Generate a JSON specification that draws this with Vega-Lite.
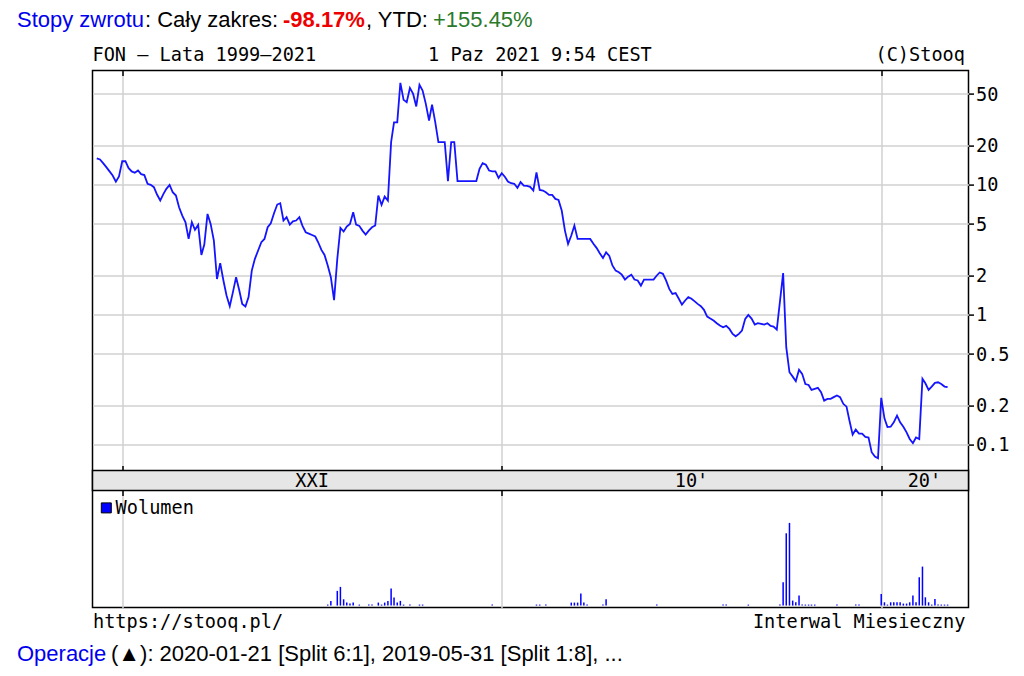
{
"$schema": "https://vega.github.io/schema/vega-lite/v6.json",
"background": "white",
"padding": {"left": 16.5, "top": 8.6, "right": 2, "bottom": 2},
"config": {"view": {"stroke": null}},
"spacing": 11,
"datasets": {
"prices": [
{"d":"1999-05-01","v":16.0},{"d":"1999-06-01","v":15.7},{"d":"1999-07-01","v":14.7},{"d":"1999-08-01","v":13.7},{"d":"1999-09-01","v":12.7},{"d":"1999-10-01","v":11.8},{"d":"1999-11-01","v":10.6},{"d":"1999-12-01","v":11.6},
{"d":"2000-01-01","v":15.2},{"d":"2000-02-01","v":15.2},{"d":"2000-03-01","v":13.5},{"d":"2000-04-01","v":12.7},{"d":"2000-05-01","v":12.4},{"d":"2000-06-01","v":12.9},{"d":"2000-07-01","v":12.1},{"d":"2000-08-01","v":11.9},{"d":"2000-09-01","v":10.2},{"d":"2000-10-01","v":10.0},{"d":"2000-11-01","v":9.6},{"d":"2000-12-01","v":8.43},
{"d":"2001-01-01","v":7.58},{"d":"2001-02-01","v":8.53},{"d":"2001-03-01","v":9.32},{"d":"2001-04-01","v":10.0},{"d":"2001-05-01","v":8.78},{"d":"2001-06-01","v":8.28},{"d":"2001-07-01","v":6.73},{"d":"2001-08-01","v":5.81},{"d":"2001-09-01","v":5.16},{"d":"2001-10-01","v":3.84},{"d":"2001-11-01","v":5.16},{"d":"2001-12-01","v":4.51},
{"d":"2002-01-01","v":4.92},{"d":"2002-02-01","v":2.89},{"d":"2002-03-01","v":3.48},{"d":"2002-04-01","v":5.98},{"d":"2002-05-01","v":5.01},{"d":"2002-06-01","v":3.73},{"d":"2002-07-01","v":1.89},{"d":"2002-08-01","v":2.5},{"d":"2002-09-01","v":1.84},{"d":"2002-10-01","v":1.41},{"d":"2002-11-01","v":1.166},{"d":"2002-12-01","v":1.49},
{"d":"2003-01-01","v":1.95},{"d":"2003-02-01","v":1.54},{"d":"2003-03-01","v":1.215},{"d":"2003-04-01","v":1.159},{"d":"2003-05-01","v":1.37},{"d":"2003-06-01","v":2.19},{"d":"2003-07-01","v":2.7},{"d":"2003-08-01","v":3.13},{"d":"2003-09-01","v":3.62},{"d":"2003-10-01","v":3.84},{"d":"2003-11-01","v":4.72},{"d":"2003-12-01","v":5.07},
{"d":"2004-01-01","v":6.05},{"d":"2004-02-01","v":7.06},{"d":"2004-03-01","v":7.23},{"d":"2004-04-01","v":5.32},{"d":"2004-05-01","v":5.64},{"d":"2004-06-01","v":4.95},{"d":"2004-07-01","v":5.25},{"d":"2004-08-01","v":5.32},{"d":"2004-09-01","v":5.64},{"d":"2004-10-01","v":4.84},{"d":"2004-11-01","v":4.32},{"d":"2004-12-01","v":4.22},
{"d":"2005-01-01","v":4.12},{"d":"2005-02-01","v":4.01},{"d":"2005-03-01","v":3.62},{"d":"2005-04-01","v":3.16},{"d":"2005-05-01","v":2.89},{"d":"2005-06-01","v":2.4},{"d":"2005-07-01","v":1.95},{"d":"2005-08-01","v":1.3},{"d":"2005-09-01","v":2.7},{"d":"2005-10-01","v":4.67},{"d":"2005-11-01","v":4.38},{"d":"2005-12-01","v":4.78},
{"d":"2006-01-01","v":5.01},{"d":"2006-02-01","v":6.16},{"d":"2006-03-01","v":4.95},{"d":"2006-04-01","v":4.84},{"d":"2006-05-01","v":4.45},{"d":"2006-06-01","v":4.15},{"d":"2006-07-01","v":4.45},{"d":"2006-08-01","v":4.72},{"d":"2006-09-01","v":4.87},{"d":"2006-10-01","v":8.28},{"d":"2006-11-01","v":7.02},{"d":"2006-12-01","v":8.13},
{"d":"2007-01-01","v":7.58},{"d":"2007-02-01","v":21.3},{"d":"2007-03-01","v":30.3},{"d":"2007-04-01","v":30.3},{"d":"2007-05-01","v":60.9},{"d":"2007-06-01","v":45.1},{"d":"2007-07-01","v":43.2},{"d":"2007-08-01","v":55.7},{"d":"2007-09-01","v":50.1},{"d":"2007-10-01","v":40.1},{"d":"2007-11-01","v":58.8},{"d":"2007-12-01","v":53.2},
{"d":"2008-01-01","v":42.0},{"d":"2008-02-01","v":31.3},{"d":"2008-03-01","v":41.5},{"d":"2008-04-01","v":30.3},{"d":"2008-05-01","v":21.3},{"d":"2008-06-01","v":21.3},{"d":"2008-07-01","v":21.3},{"d":"2008-08-01","v":10.7},{"d":"2008-09-01","v":21.3},{"d":"2008-10-01","v":21.3},{"d":"2008-11-01","v":10.7},{"d":"2008-12-01","v":10.7},
{"d":"2009-01-01","v":10.7},{"d":"2009-02-01","v":10.7},{"d":"2009-03-01","v":10.7},{"d":"2009-04-01","v":10.7},{"d":"2009-05-01","v":10.7},{"d":"2009-06-01","v":13.3},{"d":"2009-07-01","v":14.7},{"d":"2009-08-01","v":14.3},{"d":"2009-09-01","v":12.9},{"d":"2009-10-01","v":12.7},{"d":"2009-11-01","v":12.7},{"d":"2009-12-01","v":11.3},
{"d":"2010-01-01","v":12.3},{"d":"2010-02-01","v":11.5},{"d":"2010-03-01","v":10.6},{"d":"2010-04-01","v":10.3},{"d":"2010-05-01","v":10.2},{"d":"2010-06-01","v":9.48},{"d":"2010-07-01","v":10.5},{"d":"2010-08-01","v":9.88},{"d":"2010-09-01","v":9.83},{"d":"2010-10-01","v":9.65},{"d":"2010-11-01","v":9.04},{"d":"2010-12-01","v":12.5},
{"d":"2011-01-01","v":9.15},{"d":"2011-02-01","v":9.04},{"d":"2011-03-01","v":8.78},{"d":"2011-04-01","v":8.38},{"d":"2011-05-01","v":8.38},{"d":"2011-06-01","v":7.8},{"d":"2011-07-01","v":7.67},{"d":"2011-08-01","v":6.35},{"d":"2011-09-01","v":4.45},{"d":"2011-10-01","v":3.52},{"d":"2011-11-01","v":4.08},{"d":"2011-12-01","v":4.87},
{"d":"2012-01-01","v":3.84},{"d":"2012-02-01","v":3.84},{"d":"2012-03-01","v":3.84},{"d":"2012-04-01","v":3.84},{"d":"2012-05-01","v":3.84},{"d":"2012-06-01","v":3.52},{"d":"2012-07-01","v":3.28},{"d":"2012-08-01","v":2.98},{"d":"2012-09-01","v":2.74},{"d":"2012-10-01","v":3.03},{"d":"2012-11-01","v":2.84},{"d":"2012-12-01","v":2.4},
{"d":"2013-01-01","v":2.19},{"d":"2013-02-01","v":2.13},{"d":"2013-03-01","v":2.04},{"d":"2013-04-01","v":1.87},{"d":"2013-05-01","v":1.97},{"d":"2013-06-01","v":2.04},{"d":"2013-07-01","v":1.87},{"d":"2013-08-01","v":1.84},{"d":"2013-09-01","v":1.68},{"d":"2013-10-01","v":1.87},{"d":"2013-11-01","v":1.87},{"d":"2013-12-01","v":1.87},
{"d":"2014-01-01","v":1.87},{"d":"2014-02-01","v":2.01},{"d":"2014-03-01","v":2.12},{"d":"2014-04-01","v":2.07},{"d":"2014-05-01","v":1.84},{"d":"2014-06-01","v":1.585},{"d":"2014-07-01","v":1.45},{"d":"2014-08-01","v":1.47},{"d":"2014-09-01","v":1.33},{"d":"2014-10-01","v":1.2},{"d":"2014-11-01","v":1.29},{"d":"2014-12-01","v":1.37},
{"d":"2015-01-01","v":1.33},{"d":"2015-02-01","v":1.27},{"d":"2015-03-01","v":1.215},{"d":"2015-04-01","v":1.166},{"d":"2015-05-01","v":1.093},{"d":"2015-06-01","v":0.971},{"d":"2015-07-01","v":0.937},{"d":"2015-08-01","v":0.905},{"d":"2015-09-01","v":0.863},{"d":"2015-10-01","v":0.828},{"d":"2015-11-01","v":0.804},{"d":"2015-12-01","v":0.823},
{"d":"2016-01-01","v":0.78},{"d":"2016-02-01","v":0.714},{"d":"2016-03-01","v":0.685},{"d":"2016-04-01","v":0.714},{"d":"2016-05-01","v":0.758},{"d":"2016-06-01","v":0.932},{"d":"2016-07-01","v":1.0},{"d":"2016-08-01","v":0.937},{"d":"2016-09-01","v":0.843},{"d":"2016-10-01","v":0.863},{"d":"2016-11-01","v":0.853},{"d":"2016-12-01","v":0.843},
{"d":"2017-01-01","v":0.863},{"d":"2017-02-01","v":0.823},{"d":"2017-03-01","v":0.813},{"d":"2017-04-01","v":0.771},{"d":"2017-06-01","v":2.1},{"d":"2017-07-01","v":0.564},{"d":"2017-08-01","v":0.362},{"d":"2017-09-01","v":0.335},{"d":"2017-10-01","v":0.309},{"d":"2017-11-01","v":0.378},{"d":"2017-12-01","v":0.352},
{"d":"2018-01-01","v":0.294},{"d":"2018-02-01","v":0.289},{"d":"2018-03-01","v":0.265},{"d":"2018-04-01","v":0.27},{"d":"2018-05-01","v":0.275},{"d":"2018-06-01","v":0.254},{"d":"2018-07-01","v":0.219},{"d":"2018-08-01","v":0.226},{"d":"2018-09-01","v":0.226},{"d":"2018-10-01","v":0.233},{"d":"2018-11-01","v":0.24},{"d":"2018-12-01","v":0.233},
{"d":"2019-01-01","v":0.207},{"d":"2019-02-01","v":0.197},{"d":"2019-03-01","v":0.154},{"d":"2019-04-01","v":0.12},{"d":"2019-05-01","v":0.131},{"d":"2019-06-01","v":0.122},{"d":"2019-07-01","v":0.122},{"d":"2019-08-01","v":0.115},{"d":"2019-09-01","v":0.114},{"d":"2019-10-01","v":0.0878},{"d":"2019-11-01","v":0.0813},{"d":"2019-12-01","v":0.0789},
{"d":"2020-01-01","v":0.23},{"d":"2020-02-01","v":0.16},{"d":"2020-03-01","v":0.137},{"d":"2020-04-01","v":0.138},{"d":"2020-05-01","v":0.149},{"d":"2020-06-01","v":0.168},{"d":"2020-07-01","v":0.149},{"d":"2020-08-01","v":0.138},{"d":"2020-09-01","v":0.125},{"d":"2020-10-01","v":0.111},{"d":"2020-11-01","v":0.103},{"d":"2020-12-01","v":0.114},
{"d":"2021-01-01","v":0.111},{"d":"2021-02-01","v":0.322},{"d":"2021-03-01","v":0.298},{"d":"2021-04-01","v":0.265},{"d":"2021-05-01","v":0.281},{"d":"2021-06-01","v":0.3},{"d":"2021-07-01","v":0.303},{"d":"2021-08-01","v":0.294},{"d":"2021-09-01","v":0.281},{"d":"2021-10-01","v":0.278}
],
"volume": [
{"d":"2005-06-01","vol":1000},{"d":"2005-07-01","vol":4700},{"d":"2005-09-01","vol":14700},{"d":"2005-10-01","vol":18700},{"d":"2005-11-01","vol":6300},{"d":"2005-12-01","vol":3000},{"d":"2006-01-01","vol":2000},{"d":"2006-02-01","vol":3000},{"d":"2006-04-01","vol":1000},{"d":"2006-07-01","vol":1000},{"d":"2006-08-01","vol":1000},{"d":"2006-10-01","vol":3000},{"d":"2006-11-01","vol":1000},{"d":"2006-12-01","vol":3000},
{"d":"2007-01-01","vol":4700},{"d":"2007-02-01","vol":17000},{"d":"2007-03-01","vol":8000},{"d":"2007-04-01","vol":3000},{"d":"2007-05-01","vol":4700},{"d":"2007-06-01","vol":1000},{"d":"2007-08-01","vol":1000},{"d":"2007-11-01","vol":1000},{"d":"2007-12-01","vol":1000},
{"d":"2009-10-01","vol":1000},{"d":"2010-12-01","vol":1000},{"d":"2011-01-01","vol":1000},{"d":"2011-03-01","vol":1000},{"d":"2011-11-01","vol":3000},{"d":"2011-12-01","vol":3000},{"d":"2012-01-01","vol":3000},{"d":"2012-02-01","vol":12000},{"d":"2012-03-01","vol":3000},{"d":"2012-04-01","vol":1000},{"d":"2012-09-01","vol":1000},{"d":"2012-10-01","vol":6300},
{"d":"2014-02-01","vol":1000},{"d":"2015-11-01","vol":1000},{"d":"2015-12-01","vol":1000},{"d":"2016-07-01","vol":1000},{"d":"2017-05-01","vol":1000},{"d":"2017-06-01","vol":23300},{"d":"2017-07-01","vol":72300},{"d":"2017-08-01","vol":82700},{"d":"2017-09-01","vol":5000},{"d":"2017-10-01","vol":3300},{"d":"2017-11-01","vol":10000},{"d":"2017-12-01","vol":1000},
{"d":"2018-01-01","vol":1000},{"d":"2018-02-01","vol":1000},{"d":"2018-03-01","vol":1000},{"d":"2018-04-01","vol":1000},{"d":"2018-11-01","vol":1000},{"d":"2019-05-01","vol":1000},{"d":"2019-06-01","vol":1000},
{"d":"2020-01-01","vol":11700},{"d":"2020-02-01","vol":3300},{"d":"2020-03-01","vol":1000},{"d":"2020-04-01","vol":3300},{"d":"2020-05-01","vol":3300},{"d":"2020-06-01","vol":3300},{"d":"2020-07-01","vol":3300},{"d":"2020-08-01","vol":2000},{"d":"2020-09-01","vol":2000},{"d":"2020-10-01","vol":3300},{"d":"2020-11-01","vol":10000},{"d":"2020-12-01","vol":3300},
{"d":"2021-01-01","vol":28300},{"d":"2021-02-01","vol":39000},{"d":"2021-03-01","vol":8300},{"d":"2021-04-01","vol":3300},{"d":"2021-05-01","vol":1000},{"d":"2021-06-01","vol":6700},{"d":"2021-07-01","vol":1000},{"d":"2021-08-01","vol":1000},{"d":"2021-09-01","vol":1000},{"d":"2021-10-01","vol":1000}
],
"band": [{"d":"2005-01-01","label":"XXI"},{"d":"2015-01-01","label":"10'"},{"d":"2021-02-20","label":"20'"}]
},
"vconcat": [
{"hconcat": [
 {"width": 1, "height": 14, "data": {"values": [{"t": "Stopy zwrotu"}]}, "mark": {"type": "text", "align": "left", "baseline": "alphabetic", "font": "Liberation Sans", "fontSize": 22, "color": "#0000ee"}, "encoding": {"text": {"field": "t"}}},
 {"width": 1, "height": 14, "data": {"values": [{"t": ": Cały zakres:"}]}, "mark": {"type": "text", "align": "left", "baseline": "alphabetic", "font": "Liberation Sans", "fontSize": 22, "color": "#000000"}, "encoding": {"text": {"field": "t"}}},
 {"width": 1, "height": 14, "data": {"values": [{"t": "-98.17%"}]}, "mark": {"type": "text", "align": "left", "baseline": "alphabetic", "dx": 4, "font": "Liberation Sans", "fontSize": 22, "fontWeight": "bold", "color": "#ee0000"}, "encoding": {"text": {"field": "t"}}},
 {"width": 1, "height": 14, "data": {"values": [{"t": ", YTD:"}]}, "mark": {"type": "text", "align": "left", "baseline": "alphabetic", "font": "Liberation Sans", "fontSize": 22, "color": "#000000"}, "encoding": {"text": {"field": "t"}}},
 {"width": 1, "height": 14, "data": {"values": [{"t": "+155.45%"}]}, "mark": {"type": "text", "align": "left", "baseline": "alphabetic", "dx": 4, "font": "Liberation Sans", "fontSize": 22, "color": "#2a7a2a"}, "encoding": {"text": {"field": "t"}}}
], "spacing": 0},
{"hconcat": [
 {"width": 74, "height": 1, "data": {"values": [{"t": ""}]}, "mark": {"type": "text", "fontSize": 1}, "encoding": {"text": {"field": "t"}}},
 {
  "width": 876, "height": 537,
  "view": {"stroke": "#000000", "strokeWidth": 1.5},
  "title": {"text": "FON – Lata 1999–2021\u00a0\u00a0\u00a0\u00a0\u00a0\u00a0\u00a0\u00a0\u00a0\u00a01 Paz 2021 9:54 CEST\u00a0\u00a0\u00a0\u00a0\u00a0\u00a0\u00a0\u00a0\u00a0\u00a0\u00a0\u00a0\u00a0\u00a0\u00a0\u00a0\u00a0\u00a0\u00a0\u00a0(C)Stooq", "anchor": "start", "frame": "group", "font": "DejaVu Sans Mono", "fontSize": 18.6, "fontWeight": "normal", "color": "#000000", "baseline": "alphabetic", "offset": -9.5},
  "layer": [
   {
    "data": {"name": "prices"},
    "mark": {"type": "line", "color": "#1414ff", "strokeWidth": 1.8},
    "encoding": {
     "x": {"field": "d", "type": "temporal", "scale": {"type": "utc", "nice": false, "padding": 0, "domain": [{"year": 1999, "month": 3, "date": 21, "utc": true}, {"year": 2022, "month": 4, "date": 20, "utc": true}]},
       "axis": {"orient": "bottom", "values": [{"year": 2000, "month": 1, "date": 1, "utc": true}, {"year": 2010, "month": 1, "date": 1, "utc": true}, {"year": 2020, "month": 1, "date": 1, "utc": true}], "grid": true, "gridColor": "#d0d0d0", "gridWidth": 1.5, "labels": false, "ticks": false, "domain": false,
         "title": "https://stooq.pl/\u00a0\u00a0\u00a0\u00a0\u00a0\u00a0\u00a0\u00a0\u00a0\u00a0\u00a0\u00a0\u00a0\u00a0\u00a0\u00a0\u00a0\u00a0\u00a0\u00a0\u00a0\u00a0\u00a0\u00a0\u00a0\u00a0\u00a0\u00a0\u00a0\u00a0\u00a0\u00a0\u00a0\u00a0\u00a0\u00a0\u00a0\u00a0\u00a0\u00a0\u00a0\u00a0Interwal Miesieczny",
         "titleFont": "DejaVu Sans Mono", "titleFontSize": 18.6, "titleFontWeight": "normal", "titleColor": "#000000", "titleAnchor": "start", "titleAlign": "left", "titleBaseline": "alphabetic", "titlePadding": 19.5}},
     "y": {"field": "v", "type": "quantitative", "scale": {"type": "log", "nice": false, "zero": false, "domain": [0.005603, 75.71]},
       "axis": {"orient": "right", "values": [0.1, 0.2, 0.5, 1, 2, 5, 10, 20, 50], "format": "~g", "grid": true, "gridColor": "#d0d0d0", "gridWidth": 1.5, "domain": false, "ticks": true, "tickColor": "#000000", "tickSize": 5, "tickWidth": 1.5, "labelFont": "DejaVu Sans Mono", "labelFontSize": 18.6, "labelColor": "#000000", "labelPadding": 2, "labelFlush": false, "labelOverlap": false, "title": null}}
    }
   },
   {
    "data": {"name": "volume"},
    "mark": {"type": "bar", "width": 1.5},
    "encoding": {
     "x": {"field": "d", "type": "temporal",
       "axis": {"orient": "bottom", "offset": -537, "values": [{"year": 2000, "month": 1, "date": 1, "utc": true}, {"year": 2010, "month": 1, "date": 1, "utc": true}, {"year": 2020, "month": 1, "date": 1, "utc": true}], "grid": false, "labels": false, "domain": false, "ticks": true, "tickColor": "#000000", "tickSize": 5, "tickWidth": 1.5, "title": null}},
     "y": {"field": "vol", "type": "quantitative", "scale": {"nice": false, "domain": [0, 115000], "range": [535, 420]}, "axis": null},
     "color": {"datum": "Wolumen", "scale": {"range": ["#0000ff"]}, "legend": {"title": null, "orient": "none", "legendX": 80.5, "legendY": 479, "symbolType": "square", "symbolSize": 100, "symbolStrokeColor": "#000000", "symbolStrokeWidth": 1, "labelFont": "DejaVu Sans Mono", "labelFontSize": 18.6, "labelColor": "#000000", "labelOffset": 0, "padding": 0}}
    }
   },
   {
    "data": {"values": [{"panel": "time band"}]},
    "mark": {"type": "rect", "fill": "#e6e6e6", "stroke": "#000000", "strokeWidth": 1.5},
    "encoding": {
     "x": {"datum": {"year": 1999, "month": 3, "date": 21, "utc": true}, "type": "temporal",
       "axis": {"orient": "top", "offset": -400, "values": [{"year": 2000, "month": 1, "date": 1, "utc": true}, {"year": 2010, "month": 1, "date": 1, "utc": true}, {"year": 2020, "month": 1, "date": 1, "utc": true}], "grid": false, "labels": false, "domain": false, "ticks": true, "tickColor": "#000000", "tickSize": 5, "tickWidth": 1.5, "title": null}},
     "x2": {"datum": {"year": 2022, "month": 4, "date": 20, "utc": true}},
     "y": {"datum": 0, "type": "quantitative", "scale": {"domain": [0, 1], "range": [420, 400], "nice": false}, "axis": null},
     "y2": {"datum": 1}
    }
   },
   {
    "data": {"name": "band"},
    "mark": {"type": "text", "font": "DejaVu Sans Mono", "fontSize": 18.6, "color": "#000000", "baseline": "middle", "align": "center"},
    "encoding": {
     "x": {"field": "d", "type": "temporal",
       "axis": {"orient": "bottom", "offset": -117, "values": [{"year": 2000, "month": 1, "date": 1, "utc": true}, {"year": 2010, "month": 1, "date": 1, "utc": true}, {"year": 2020, "month": 1, "date": 1, "utc": true}], "grid": false, "labels": false, "domain": false, "ticks": true, "tickColor": "#000000", "tickSize": 5, "tickWidth": 1.5, "title": null}},
     "y": {"datum": 0.5, "type": "quantitative", "scale": {"domain": [0, 1], "range": [420, 400], "nice": false}, "axis": null},
     "text": {"field": "label"}
    }
   }
  ],
  "resolve": {"scale": {"y": "independent"}, "axis": {"y": "independent", "x": "independent"}}
 }
], "spacing": 0},
{"hconcat": [
 {"width": 1, "height": 14, "data": {"values": [{"t": "Operacje"}]}, "mark": {"type": "text", "align": "left", "baseline": "alphabetic", "font": "Liberation Sans", "fontSize": 22, "color": "#0000ee"}, "encoding": {"text": {"field": "t"}}},
 {"width": 1, "height": 14, "data": {"values": [{"t": "(▲): 2020-01-21 [Split 6:1], 2019-05-31 [Split 1:8], ..."}]}, "mark": {"type": "text", "align": "left", "baseline": "alphabetic", "dx": 4, "font": "Liberation Sans", "fontSize": 22, "color": "#000000"}, "encoding": {"text": {"field": "t"}}}
], "spacing": 0}
]
}
